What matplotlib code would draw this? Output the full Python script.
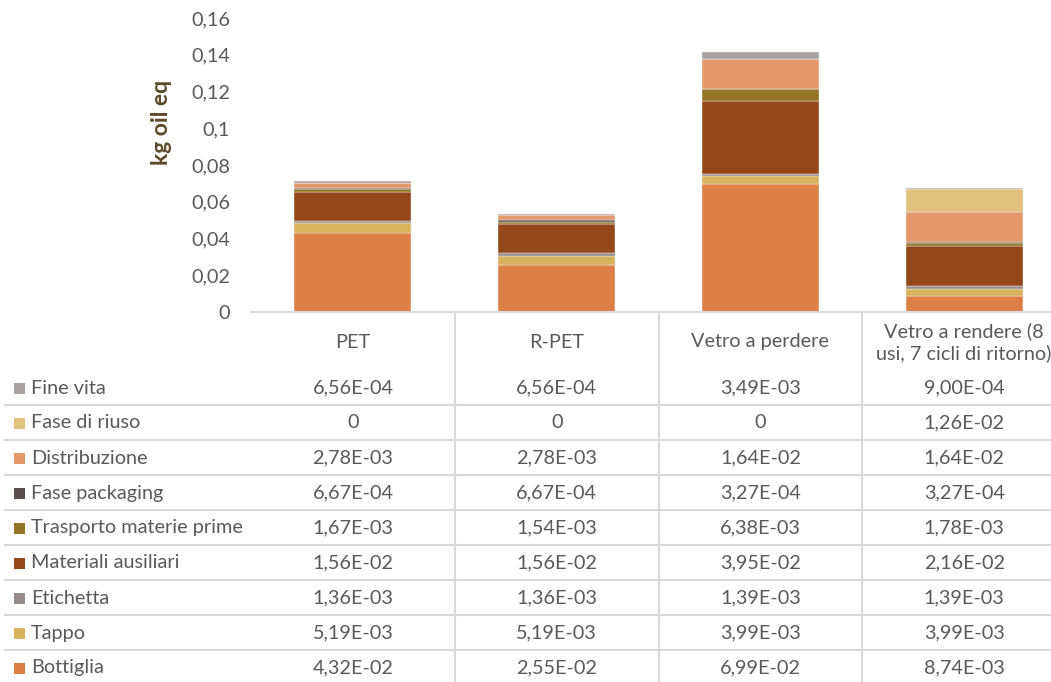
import matplotlib.pyplot as plt
import matplotlib.transforms as mtransforms
from matplotlib.lines import Line2D
from matplotlib.patches import Rectangle

plt.rcParams['font.family'] = ['Lato', 'DejaVu Sans']

categories = ['PET', 'R-PET', 'Vetro a perdere', 'Vetro a rendere (8\nusi, 7 cicli di ritorno)']

# stacking order, bottom to top
phases = ['Bottiglia', 'Tappo', 'Etichetta', 'Materiali ausiliari',
          'Trasporto materie prime', 'Fase packaging', 'Distribuzione',
          'Fase di riuso', 'Fine vita']

bottiglia = [4.32e-02, 2.55e-02, 6.99e-02, 8.74e-03]
tappo = [5.19e-03, 5.19e-03, 3.99e-03, 3.99e-03]
etichetta = [1.36e-03, 1.36e-03, 1.39e-03, 1.39e-03]
materiali = [1.56e-02, 1.56e-02, 3.95e-02, 2.16e-02]
trasporto = [1.67e-03, 1.54e-03, 6.38e-03, 1.78e-03]
packaging = [6.67e-04, 6.67e-04, 3.27e-04, 3.27e-04]
distribuzione = [2.78e-03, 2.78e-03, 1.64e-02, 1.64e-02]
riuso = [0, 0, 0, 1.26e-02]
fine_vita = [6.56e-04, 6.56e-04, 3.49e-03, 9.00e-04]

series = [bottiglia, tappo, etichetta, materiali, trasporto,
          packaging, distribuzione, riuso, fine_vita]
colors = ['#DD8047', '#D8B25C', '#968C8C', '#94481A', '#947425',
          '#594F4F', '#E3996C', '#E0C17E', '#A9A0A0']

FS = 14.3
W, H = 1051, 682
fig = plt.figure(figsize=(W / 100, H / 100), dpi=100)
ax = fig.add_axes([251 / W, (H - 312) / H, (1066 - 251) / W, 294 / H])

x = range(len(categories))
bottom = [0.0] * len(categories)
for vals, col in zip(series, colors):
    ax.bar(x, vals, 0.575, bottom=bottom, color=col,
           edgecolor='#F2F2F2', linewidth=0.3)
    bottom = [b + v for b, v in zip(bottom, vals)]

ax.set_xlim(-0.5, len(categories) - 0.5)
ax.set_ylim(0, 0.16)
ax.set_yticks([i * 0.02 for i in range(9)])
ax.set_yticklabels(['0'] + [f'{i * 0.02:g}'.replace('.', ',') for i in range(1, 9)])
ax.tick_params(axis='y', length=0, pad=15, labelsize=FS, labelcolor='#595959')
ax.set_xticks([])
for s in ['top', 'right', 'left']:
    ax.spines[s].set_visible(False)
ax.spines['bottom'].set_color('#D9D9D9')
ax.spines['bottom'].set_linewidth(1.5)

fig.text(162 / W, 1 - 122 / H, 'kg oil eq', rotation=90, ha='center', va='center',
         fontsize=16.5, fontweight='bold', color='#5B4A27')

# data table under the chart: x in category units, y in figure pixels from top
px = mtransforms.Affine2D().scale(1 / W, -1 / H).translate(0, 1) + fig.transFigure
tr = mtransforms.blended_transform_factory(ax.transData, px)
grid = '#D9D9D9'

for i, name in enumerate(categories):
    fig.text(i, 342, name, transform=tr, ha='center', va='center',
             fontsize=FS, color='#595959', linespacing=1.3)

for k in range(len(categories) - 1):
    fig.add_artist(Line2D([k + 0.5, k + 0.5], [312, H], transform=tr,
                          color=grid, lw=1.5))

for r in range(len(phases) - 1):
    y = 405 + 35 * r
    fig.add_artist(Line2D([5, W], [y, y], transform=px, color=grid, lw=1.5))

for r, idx in enumerate(reversed(range(len(phases)))):
    yc = 388 + 35 * r
    fig.add_artist(Rectangle((14, yc - 5.5), 11, 11, transform=px,
                             facecolor=colors[idx], edgecolor='none'))
    fig.text(31 / W, 1 - yc / H, phases[idx], ha='left', va='center',
             fontsize=FS, color='#595959')
    for i, v in enumerate(series[idx]):
        label = '0' if v == 0 else f'{v:.2E}'.replace('.', ',')
        fig.text(i, yc, label, transform=tr, ha='center', va='center',
                 fontsize=FS, color='#595959')

fig.savefig('out.png', dpi=100)
